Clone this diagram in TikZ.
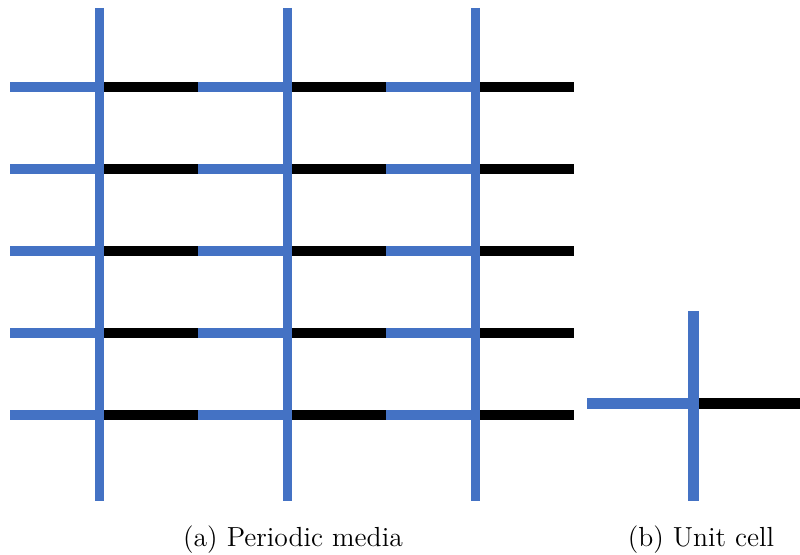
\documentclass[tikz,border=0pt]{standalone}
\usepackage{xcolor}
\definecolor{cellBlue}{HTML}{4472C4}
\tikzset{
    blueBar/.style={draw=cellBlue, line width=4.6pt},
    blackBar/.style={draw=black, line width=4.6pt},
    caption/.style={font=\fontsize{13.8}{16}\selectfont, anchor=base}
}
\begin{document}
\begin{tikzpicture}[x=0.5pt, y=-0.5pt]
    \def\cellW{188}
    \def\rowH{82}
    \useasboundingbox (0,0) rectangle (800,555);

    % Periodic media: horizontal bars, blue half then black half
    \foreach \i in {0,1,2}{
        \foreach \j in {0,...,4}{
            \draw[blueBar] ({10+\i*\cellW},{87+\j*\rowH}) -- ({99.5+\i*\cellW},{87+\j*\rowH});
            \draw[blackBar] ({99.5+\i*\cellW},{87+\j*\rowH}) -- ({198+\i*\cellW},{87+\j*\rowH});
        }
        % vertical bars on top
        \draw[blueBar] ({99.5+\i*\cellW},8) -- ({99.5+\i*\cellW},501);
    }

    % Unit cell
    \coordinate (uLeft) at (587,403.5);
    \coordinate (uMid) at (693,403.5);
    \coordinate (uRight) at (800,403.5);
    \coordinate (uTop) at (693,311);
    \coordinate (uBot) at (693,501);
    \draw[blueBar, line width=5.5pt] (uLeft) -- (uMid);
    \draw[blackBar, line width=5.5pt] (uMid) -- (uRight);
    \draw[blueBar, line width=5.5pt] (uTop) -- (uBot);

    % Captions
    \node[caption] (capA) at (293,546.5) {(a) Periodic media};
    \node[caption] (capB) at (701,546.5) {(b) Unit cell};
\end{tikzpicture}
\end{document}
